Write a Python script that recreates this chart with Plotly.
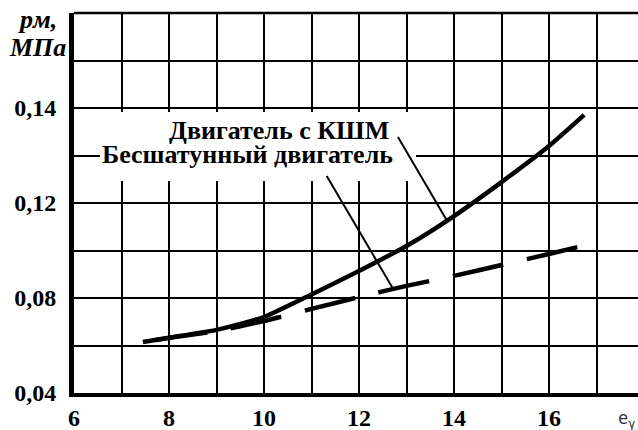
import numpy as np
import plotly.graph_objects as go

# ---- data ----
x_kshm = [7.45, 8, 9, 10, 11, 12, 13, 14, 15, 16, 16.74]
p_kshm = [0.0615, 0.0633, 0.0666, 0.0720, 0.0815, 0.0914, 0.1019, 0.1145, 0.1288, 0.1440, 0.1571]
x_bessh = [7.45, 8, 9, 10, 11, 12, 13, 14, 15, 16, 16.61]
p_bessh = [0.0615, 0.0632, 0.0661, 0.0703, 0.0754, 0.0804, 0.0851, 0.0893, 0.0939, 0.0985, 0.1015]

x_tick_vals = [6, 8, 10, 12, 14, 16]
x_tick_text = ["6", "8", "10", "12", "14", "16"]
y_tick_vals = [0.04, 0.08, 0.12, 0.16]
y_tick_text = ["0,04", "0,08", "0,12", "0,14"]

label_kshm = "Двигатель с КШМ"
label_bessh = "Бесшатунный двигатель"
y_title_1 = "pм,"
y_title_2 = "МПа"
x_title = "e<sub>γ</sub>"

SERIF = "Liberation Serif"
X_MIN, X_MAX = 6, 6 + (638 - 74) / 47.5
Y_MIN, Y_MAX = 0.04, 0.20

fig = go.Figure()
fig.add_trace(go.Scatter(
    x=x_kshm, y=p_kshm, mode="lines", showlegend=False, hoverinfo="skip",
    line=dict(color="black", width=4.5, shape="spline", smoothing=0.5)))
dash = "0px,13px," + ",".join(["52px,24px"] * 8)
fig.add_trace(go.Scatter(
    x=x_bessh, y=p_bessh, mode="lines", showlegend=False, hoverinfo="skip",
    line=dict(color="black", width=4.5, dash=dash, shape="spline", smoothing=0.5)))

# leader tips on the curves
tip_k_x = 13.85
tip_k_y = float(np.interp(tip_k_x, x_kshm, p_kshm))
tip_b_x = 12.72
tip_b_y = float(np.interp(tip_b_x, x_bessh, p_bessh))

shapes = [
    # white block behind the labels
    dict(type="rect", xref="x", yref="y", x0=6.547, x1=13.2, y0=0.1293, y1=0.1583,
         fillcolor="white", line=dict(width=0), layer="above"),
    dict(type="line", xref="x", yref="y", x0=12.82, y0=0.1478, x1=tip_k_x, y1=tip_k_y,
         line=dict(color="black", width=2), layer="above"),
    dict(type="line", xref="x", yref="y", x0=11.32, y0=0.1314, x1=tip_b_x, y1=tip_b_y,
         line=dict(color="black", width=2), layer="above"),
    # top border
    dict(type="line", xref="paper", yref="paper", x0=0, x1=1, y0=1, y1=1,
         line=dict(color="black", width=2.5), layer="above"),
]

lab_font = dict(family=SERIF, size=26, color="black", weight="bold")
ttl_font = dict(family=SERIF, size=26, color="black", weight="bold", style="italic")
annotations = [
    dict(x=10.316, y=0.1505, xref="x", yref="y", text=label_kshm, showarrow=False,
         font=lab_font, xanchor="center", yanchor="middle"),
    dict(x=9.663, y=0.1403, xref="x", yref="y", text=label_bessh, showarrow=False,
         font=lab_font, xanchor="center", yanchor="middle"),
    dict(x=-0.0656, y=0.9816, xref="paper", yref="paper", text=y_title_1, showarrow=False,
         font=ttl_font, xanchor="center", yanchor="middle"),
    dict(x=-0.0656, y=0.9105, xref="paper", yref="paper", text=y_title_2, showarrow=False,
         font=ttl_font, xanchor="center", yanchor="middle"),
    dict(x=(616 - 74) / 564, y=(393 - 420) / 380, xref="paper", yref="paper", text=x_title,
         showarrow=False, font=dict(family="DejaVu Sans Mono", size=17, color="#333333"),
         xanchor="left", yanchor="middle"),
]

tick_font = dict(family=SERIF, size=24, color="black", weight="bold")
fig.update_layout(
    width=638, height=430,
    margin=dict(l=74, r=0, t=13, b=37),
    paper_bgcolor="white", plot_bgcolor="white",
    shapes=shapes, annotations=annotations,
    xaxis=dict(range=[X_MIN, X_MAX], tickmode="array", tickvals=x_tick_vals, ticktext=x_tick_text,
               showgrid=True, gridcolor="black", gridwidth=2, zeroline=False, automargin=False,
               showline=True, linecolor="black", linewidth=4, ticks="",
               tickfont=tick_font, ticklabelstandoff=0,
               minor=dict(dtick=1, tick0=6, showgrid=True, gridcolor="black", gridwidth=2)),
    yaxis=dict(range=[Y_MIN, Y_MAX], tickmode="array", tickvals=y_tick_vals, ticktext=y_tick_text,
               showgrid=True, gridcolor="black", gridwidth=2, zeroline=False, automargin=False,
               showline=True, linecolor="black", linewidth=5, ticks="",
               tickfont=tick_font, ticklabelstandoff=8,
               minor=dict(dtick=0.02, tick0=0.04, showgrid=True, gridcolor="black", gridwidth=2)),
)

fig.write_html("out.html", config={"displayModeBar": False},
               post_script="document.body.style.margin='0';document.body.style.overflow='hidden';")
